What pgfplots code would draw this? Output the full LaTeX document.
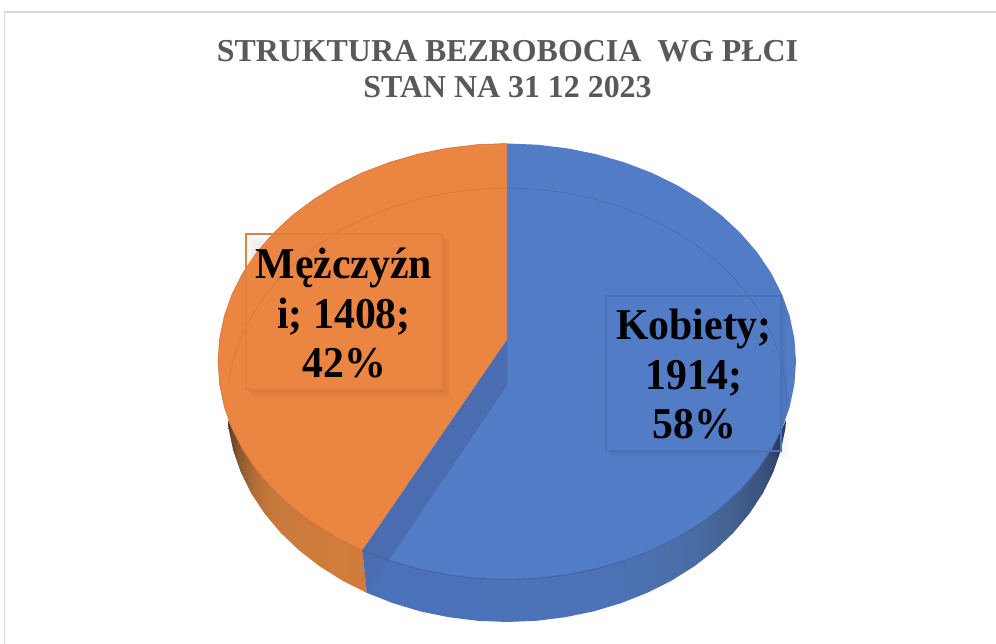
\documentclass[border=0pt]{standalone}
\usepackage{pgfplots}
\pgfplotsset{compat=1.18}
\usepackage{fontspec}
\setmainfont{Liberation Serif}
\definecolor{topblue}{HTML}{527DC6}
\definecolor{toporange}{HTML}{EA8542}
\definecolor{wallblue}{HTML}{4A6CB0}
\definecolor{titlegray}{HTML}{595959}
\definecolor{framegray}{HTML}{D9D9D9}
\definecolor{OA}{HTML}{5A3C22}
\definecolor{OB}{HTML}{8A5A30}
\definecolor{OC}{HTML}{B87038}
\definecolor{OD}{HTML}{C87A3C}
\definecolor{OE}{HTML}{D07C3A}
\definecolor{OF}{HTML}{D17B3A}
\definecolor{BA}{HTML}{4B72B8}
\definecolor{BB}{HTML}{4C73B8}
\definecolor{BC}{HTML}{4A6EA9}
\definecolor{BD}{HTML}{466698}
\definecolor{BE}{HTML}{3A5380}
\definecolor{BF}{HTML}{2C3F60}
\pgfdeclarehorizontalshading{orside}{100bp}{color(0bp)=(OA);color(25bp)=(OA);color(29bp)=(OB);color(35bp)=(OC);color(42bp)=(OD);color(62bp)=(OE);color(75bp)=(OF);color(100bp)=(OF)}
\pgfdeclarehorizontalshading{blside}{100bp}{color(0bp)=(BA);color(25bp)=(BA);color(52.8bp)=(BB);color(62.3bp)=(BC);color(67bp)=(BD);color(72bp)=(BE);color(75bp)=(BF);color(100bp)=(BF)}
\newcommand{\lab}[1]{\scalebox{0.95}[1]{#1}}
\begin{document}
\begin{tikzpicture}
\begin{axis}[
  scale only axis, width=996pt, height=644pt,
  xmin=0, xmax=996, ymin=0, ymax=644, y dir=reverse,
  axis lines=none, clip=true,
  /tikz/every node/.append style={font=\bfseries}
]
% page and frame
\addplot[fill=white, draw=none] coordinates {(0,0)(996,0)(996,644)(0,644)} --cycle;
\addplot[draw=framegray, line width=1.6pt] coordinates {(4.5,644)(4.5,12)(996,12)};
% side: orange
\addplot[shading=orside, draw=none] coordinates {
(228,420)(228.5,427.7)(233.1,450.1)(240.7,472.1)(251.2,493.3)(264.5,513.5)(280.5,532.6)(298.9,550.2)(319.7,566.3)(342.4,580.6)(367,592.9)
(362.5,550.3)(337.1,537.9)(313.6,523.5)(292.2,507.4)(273.2,489.6)(256.7,470.5)(243,450.2)(232.1,428.9)} --cycle;
% side: blue
\addplot[shading=blside, draw=none] coordinates {
(786,420)(785.5,427.7)(780.9,450.1)(773.3,472.1)(762.8,493.3)(749.5,513.5)(733.5,532.6)(715.1,550.2)(694.3,566.3)(671.6,580.6)(647,592.9)(620.9,603.2)(593.5,611.4)(565.2,617.2)(536.3,620.8)(507,622)(477.7,620.8)(448.8,617.2)(420.5,611.4)(393.1,603.2)(367,592.9)
(362.5,550.3)(389.5,560.6)(417.7,568.8)(446.9,574.7)(476.8,578.3)(507,579.5)(537.2,578.3)(567.1,574.7)(596.3,568.8)(624.5,560.6)(651.5,550.3)(676.9,537.9)(700.4,523.5)(721.8,507.4)(740.8,489.6)(757.3,470.5)(771,450.2)(781.9,428.9)} --cycle;
% top: orange
\addplot[fill=toporange, draw=none] coordinates {
(507,143.5)(476.8,144.7)(446.9,148.3)(417.7,154.2)(389.5,162.4)(362.5,172.7)(337.1,185.1)(313.6,199.5)(292.2,215.6)(273.2,233.4)(256.7,252.5)(243,272.8)(232.1,294.1)(224.3,316.2)(219.6,338.7)(218,361.5)(219.6,384.3)(224.3,406.8)(232.1,428.9)(243,450.2)(256.7,470.5)(273.2,489.6)(292.2,507.4)(313.6,523.5)(337.1,537.9)(362.5,550.3)(507,340)} --cycle;
% top: blue
\addplot[fill=topblue, draw=none] coordinates {
(507,143.5)(537.2,144.7)(567.1,148.3)(596.3,154.2)(624.5,162.4)(651.5,172.7)(676.9,185.1)(700.4,199.5)(721.8,215.6)(740.8,233.4)(757.3,252.5)(771,272.8)(781.9,294.1)(789.7,316.2)(794.4,338.7)(796,361.5)(794.4,384.3)(789.7,406.8)(781.9,428.9)(771,450.2)(757.3,470.5)(740.8,489.6)(721.8,507.4)(700.4,523.5)(676.9,537.9)(651.5,550.3)(624.5,560.6)(596.3,568.8)(567.1,574.7)(537.2,578.3)(507,579.5)(476.8,578.3)(446.9,574.7)(417.7,568.8)(389.5,560.6)(362.5,550.3)(507,340)} --cycle;
% inner wall seen through the blue slice
\addplot[fill=wallblue, draw=none] coordinates {(362.5,550.3)(507,340)(507,385)(367,592.9)} --cycle;
% rim lines of the top face
\addplot[draw=OD!85!red, line width=0.5pt] coordinates {(507,143.5)(476.8,144.7)(446.9,148.3)(417.7,154.2)(389.5,162.4)(362.5,172.7)(337.1,185.1)(313.6,199.5)(292.2,215.6)(273.2,233.4)(256.7,252.5)(243,272.8)(232.1,294.1)(224.3,316.2)(219.6,338.7)(218,361.5)(219.6,384.3)(224.3,406.8)(232.1,428.9)(243,450.2)(256.7,470.5)(273.2,489.6)(292.2,507.4)(313.6,523.5)(337.1,537.9)(362.5,550.3)};
\addplot[draw=BA!85!black, line width=0.8pt] coordinates {(362.5,550.3)(389.5,560.6)(417.7,568.8)(446.9,574.7)(476.8,578.3)(507,579.5)(537.2,578.3)(567.1,574.7)(596.3,568.8)(624.5,560.6)(651.5,550.3)(676.9,537.9)(700.4,523.5)(721.8,507.4)(740.8,489.6)(757.3,470.5)(771,450.2)(781.9,428.9)};
% soft shadows of the label boxes
\addplot[fill=black, fill opacity=0.02, draw=none] coordinates {(252,240)(450,240)(450,397)(252,397)} --cycle;
\addplot[fill=black, fill opacity=0.02, draw=none] coordinates {(250,238)(448,238)(448,395)(250,395)} --cycle;
\addplot[fill=black, fill opacity=0.025, draw=none] coordinates {(248,236)(445,236)(445,392)(248,392)} --cycle;
\addplot[fill=black, fill opacity=0.02, draw=none] coordinates {(612,302)(789,302)(789,459)(612,459)} --cycle;
\addplot[fill=black, fill opacity=0.02, draw=none] coordinates {(610,300)(786,300)(786,456)(610,456)} --cycle;
\addplot[fill=black, fill opacity=0.025, draw=none] coordinates {(608,298)(783,298)(783,453)(608,453)} --cycle;
% label box fills over the pie
\addplot[fill=toporange, draw=none] coordinates {(247,266)(256.7,252.5)(272,235)(442,235)(442,389)(247,389)} --cycle;
\addplot[fill=topblue, draw=none] coordinates {(606,296)(781,296)(781,428.9)(771,450.2)(606,451)} --cycle;
% faint back rim of the lower ellipse
\addplot[draw=OF!85!red, line width=0.5pt, opacity=0.75] coordinates {(228.5,382.3)(233.1,359.9)(240.7,337.9)(251.2,316.7)(264.5,296.5)(280.5,277.4)(298.9,259.8)(319.7,243.7)(342.4,229.4)(367,217.1)(393.1,206.8)(420.5,198.6)(448.8,192.8)(477.7,189.2)(507,188)};
\addplot[draw=BA!85!black, line width=0.5pt, opacity=0.75] coordinates {(507,188)(536.3,189.2)(565.2,192.8)(593.5,198.6)(620.9,206.8)(647,217.1)(671.6,229.4)(694.3,243.7)(715.1,259.8)(733.5,277.4)(749.5,296.5)(762.8,316.7)(773.3,337.9)(780.9,359.9)(785.5,382.3)(787,405)};
% label box outlines
\addplot[draw=OF!40!toporange, line width=2.4pt] coordinates {(246,234)(442,234)(442,389)(246,389)} --cycle;
\addplot[draw=BA, line width=2.4pt] coordinates {(606,296)(781,296)(781,451)(606,451)} --cycle;
% texts
\node[anchor=base, text=titlegray, font=\bfseries\fontsize{31.9}{36}\selectfont] at (axis cs:507.5,62) {STRUKTURA BEZROBOCIA\ \ WG PŁCI};
\node[anchor=base, text=titlegray, font=\bfseries\fontsize{31.9}{36}\selectfont] at (axis cs:507.5,98) {STAN NA 31 12 2023};
\node[anchor=base, text=black, font=\bfseries\fontsize{44}{49}\selectfont] at (axis cs:344,279) {\lab{Mężczyźn}};
\node[anchor=base, text=black, font=\bfseries\fontsize{44}{49}\selectfont] at (axis cs:344,328) {\lab{i; 1408;}};
\node[anchor=base, text=black, font=\bfseries\fontsize{44}{49}\selectfont] at (axis cs:344,377) {\lab{42\%}};
\node[anchor=base, text=black, font=\bfseries\fontsize{44}{49}\selectfont] at (axis cs:694,339) {\lab{Kobiety;}};
\node[anchor=base, text=black, font=\bfseries\fontsize{44}{49}\selectfont] at (axis cs:694,389) {\lab{1914;}};
\node[anchor=base, text=black, font=\bfseries\fontsize{44}{49}\selectfont] at (axis cs:694,438) {\lab{58\%}};
\end{axis}
\end{tikzpicture}
\end{document}
